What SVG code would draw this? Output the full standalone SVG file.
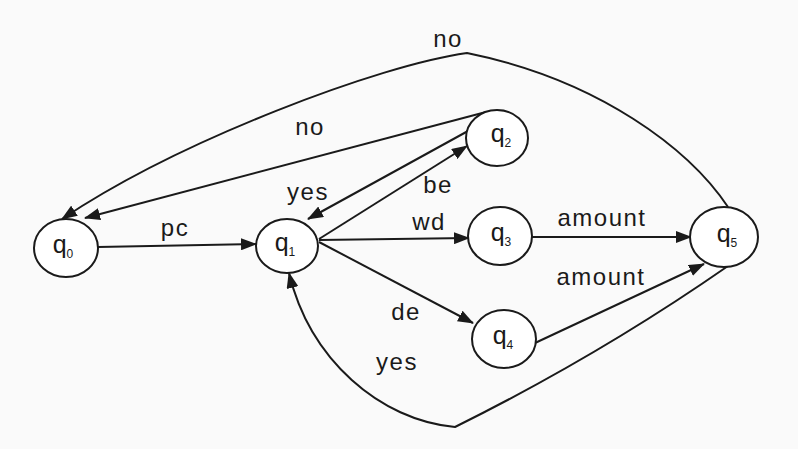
<svg xmlns="http://www.w3.org/2000/svg" width="798" height="449" viewBox="0 0 798 449">
  <style>
    .state { fill: #ffffff; stroke: #1a1a1a; stroke-width: 2; }
    .edge { fill: none; stroke: #1a1a1a; stroke-width: 2; marker-end: url(#head); }
    .lbl { font-family: "Liberation Sans", Arial, sans-serif; font-size: 24px; letter-spacing: 1.5px; fill: #1a1a1a; text-anchor: middle; }
    .name { font-family: "Liberation Sans", Arial, sans-serif; font-size: 25px; fill: #1a1a1a; text-anchor: middle; }
    .sub { font-size: 12px; }
  </style>
  <defs>
    <marker id="head" markerUnits="userSpaceOnUse" markerWidth="16" markerHeight="12" refX="15" refY="6" orient="auto">
      <path d="M0,0 L16,6 L0,12 Z" fill="#1a1a1a"/>
    </marker>
  </defs>
  <rect width="798" height="449" fill="#fafafa"/>

  <g id="connectors">
    <!-- q0 -> q1 : pc -->
    <path class="edge" d="M98,247 L256,244"/>
    <!-- q1 -> q3 : wd -->
    <path class="edge" d="M319,240 L469,238"/>
    <!-- q1 -> q2 : be -->
    <path class="edge" d="M319,239 L467,146"/>
    <!-- q2 -> q1 : yes -->
    <path class="edge" d="M468,131 L308,219"/>
    <!-- q1 -> q4 : de -->
    <path class="edge" d="M319,242 L473,323"/>
    <!-- q3 -> q5 : amount -->
    <path class="edge" d="M532,237 L691,237"/>
    <!-- q4 -> q5 : amount -->
    <path class="edge" d="M535,343 L704,264"/>
    <!-- q2 -> q0 : no -->
    <path class="edge" d="M486,112 L85,218"/>
    <!-- q5 -> q0 : no (outer arc) -->
    <path class="edge" d="M728,207 C690,150 600,80 467,53 C380,65 180,140 62,219"/>
    <!-- q5 -> q1 : yes (lower arc) -->
    <path class="edge" d="M728,266 Q600,355 455,427 C380,420 310,360 289,273"/>
  </g>

  <g id="edge-labels">
    <text class="lbl" x="448" y="47">no</text>
    <text class="lbl" x="310" y="135">no</text>
    <text class="lbl" x="308" y="200">yes</text>
    <text class="lbl" x="438" y="193">be</text>
    <text class="lbl" x="175" y="236">pc</text>
    <text class="lbl" x="429" y="230">wd</text>
    <text class="lbl" x="602" y="226">amount</text>
    <text class="lbl" x="601" y="285">amount</text>
    <text class="lbl" x="406" y="320">de</text>
    <text class="lbl" x="397" y="370">yes</text>
  </g>

  <g id="q0">
    <ellipse class="state" cx="66" cy="248" rx="32" ry="29"/>
    <text class="name" x="63" y="253">q<tspan class="sub" dy="5">0</tspan></text>
  </g>
  <g id="q1">
    <ellipse class="state" cx="287" cy="246" rx="31" ry="27"/>
    <text class="name" x="285" y="251">q<tspan class="sub" dy="5">1</tspan></text>
  </g>
  <g id="q2">
    <ellipse class="state" cx="497" cy="138" rx="31" ry="28"/>
    <text class="name" x="501" y="142">q<tspan class="sub" dy="5">2</tspan></text>
  </g>
  <g id="q3">
    <ellipse class="state" cx="500" cy="236" rx="32" ry="29"/>
    <text class="name" x="501" y="241">q<tspan class="sub" dy="5">3</tspan></text>
  </g>
  <g id="q4">
    <ellipse class="state" cx="504" cy="339" rx="32" ry="29"/>
    <text class="name" x="503" y="344">q<tspan class="sub" dy="5">4</tspan></text>
  </g>
  <g id="q5">
    <ellipse class="state" cx="724" cy="237" rx="34" ry="30"/>
    <text class="name" x="727" y="242">q<tspan class="sub" dy="5">5</tspan></text>
  </g>
</svg>
